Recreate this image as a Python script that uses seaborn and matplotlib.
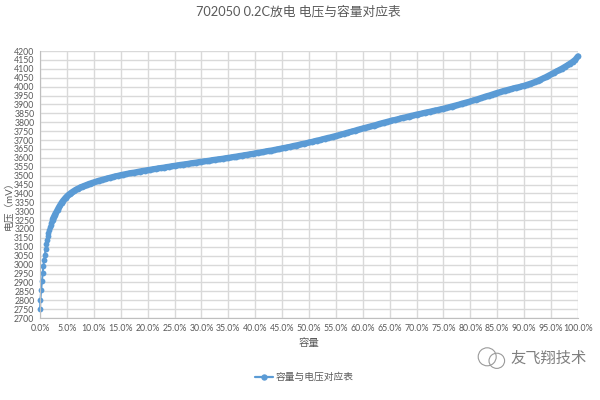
import matplotlib
matplotlib.use('Agg')
import matplotlib.pyplot as plt
import seaborn as sns
import pandas as pd
from matplotlib.ticker import MultipleLocator, PercentFormatter
from matplotlib.patches import Ellipse

# capacity (%) and voltage (mV)
cap_start = [0.0, 0.06, 0.24, 0.37, 0.5, 0.61, 0.74, 0.87, 1.06, 1.17,
             1.3, 1.43, 1.56, 1.69, 1.82, 1.95, 2.08, 2.21, 2.34, 2.47,
             2.6, 2.73, 2.86, 3.0]
volt_start = [2750, 2800, 2860, 2910, 2955, 2990, 3025, 3055, 3085, 3113,
              3137, 3158, 3177, 3194, 3209, 3222, 3234, 3244, 3253, 3262,
              3270, 3278, 3286, 3293]

cap_knee = [3.25, 3.5, 3.75, 4.0, 4.25, 4.5, 4.75, 5.0, 5.25, 5.5,
            5.75, 6.0, 6.25, 6.5, 6.75, 7.0, 7.25, 7.5, 7.75, 8.0,
            8.25, 8.5, 8.75, 9.0, 9.25, 9.5, 9.75, 10.0]
volt_knee = [3308, 3322, 3335, 3347, 3358, 3367, 3376, 3384, 3391, 3397,
             3403, 3408, 3413, 3418, 3422, 3426, 3430, 3434, 3437, 3440,
             3443, 3446, 3449, 3452, 3455, 3457, 3460, 3462]

cap_main = [10.5, 11, 11.5, 12, 12.5, 13, 13.5, 14, 14.5, 15,
            15.5, 16, 16.5, 17, 17.5, 18, 18.5, 19, 19.5, 20,
            20.5, 21, 21.5, 22, 22.5, 23, 23.5, 24, 24.5, 25,
            25.5, 26, 26.5, 27, 27.5, 28, 28.5, 29, 29.5, 30,
            30.5, 31, 31.5, 32, 32.5, 33, 33.5, 34, 34.5, 35,
            35.5, 36, 36.5, 37, 37.5, 38, 38.5, 39, 39.5, 40,
            40.5, 41, 41.5, 42, 42.5, 43, 43.5, 44, 44.5, 45,
            45.5, 46, 46.5, 47, 47.5, 48, 48.5, 49, 49.5, 50,
            50.5, 51, 51.5, 52, 52.5, 53, 53.5, 54, 54.5, 55,
            55.5, 56, 56.5, 57, 57.5, 58, 58.5, 59, 59.5, 60,
            60.5, 61, 61.5, 62, 62.5, 63, 63.5, 64, 64.5, 65,
            65.5, 66, 66.5, 67, 67.5, 68, 68.5, 69, 69.5, 70,
            70.5, 71, 71.5, 72, 72.5, 73, 73.5, 74, 74.5, 75,
            75.5, 76, 76.5, 77, 77.5, 78, 78.5, 79, 79.5, 80,
            80.5, 81, 81.5, 82, 82.5, 83, 83.5, 84, 84.5, 85,
            85.5, 86, 86.5, 87, 87.5, 88, 88.5, 89, 89.5, 90,
            90.5, 91, 91.5, 92, 92.5, 93, 93.5, 94, 94.5, 95,
            95.5, 96, 96.5, 97, 97.5, 98, 98.5, 99, 99.5, 100]
volt_main = [3467, 3472, 3476, 3480, 3484, 3488, 3492, 3496, 3499, 3503,
             3506, 3509, 3512, 3515, 3517, 3520, 3523, 3526, 3528, 3531,
             3533, 3536, 3538, 3541, 3543, 3545, 3548, 3550, 3553, 3555,
             3557, 3560, 3562, 3564, 3566, 3569, 3571, 3573, 3576, 3578,
             3580, 3582, 3584, 3587, 3589, 3591, 3593, 3595, 3598, 3600,
             3602, 3605, 3607, 3610, 3612, 3615, 3617, 3620, 3622, 3625,
             3628, 3630, 3633, 3636, 3639, 3641, 3644, 3647, 3650, 3653,
             3656, 3659, 3662, 3666, 3669, 3672, 3676, 3679, 3682, 3686,
             3689, 3693, 3697, 3700, 3704, 3708, 3712, 3715, 3719, 3723,
             3727, 3731, 3735, 3740, 3744, 3748, 3752, 3757, 3761, 3765,
             3769, 3773, 3777, 3781, 3785, 3790, 3794, 3798, 3802, 3806,
             3810, 3813, 3817, 3821, 3825, 3828, 3832, 3836, 3839, 3843,
             3846, 3849, 3853, 3856, 3859, 3863, 3866, 3869, 3873, 3876,
             3880, 3884, 3888, 3892, 3896, 3900, 3905, 3909, 3913, 3917,
             3922, 3926, 3931, 3936, 3941, 3946, 3950, 3955, 3960, 3965,
             3969, 3974, 3978, 3982, 3986, 3990, 3994, 3997, 4001, 4005,
             4010, 4015, 4020, 4026, 4032, 4039, 4046, 4053, 4061, 4069,
             4077, 4085, 4093, 4101, 4110, 4119, 4129, 4139, 4151, 4170]

TITLE = '702050 0.2C放电 电压与容量对应表'
SERIES = '容量与电压对应表'
BLUE = '#5B9BD5'
GRAY = '#595959'
GRID = '#D9D9D9'

sns.set_style('whitegrid')
plt.rcParams['font.family'] = ['Lato', 'Noto Sans CJK SC', 'DejaVu Sans']

df = pd.DataFrame({
    'cap': cap_start + cap_knee + cap_main,
    'volt': volt_start + volt_knee + volt_main,
    'series': SERIES,
})

fig = plt.figure(figsize=(6, 4), dpi=100)
ax = fig.add_axes([0.0667, 0.205, 0.8966, 0.6675])

# markers + thin connector for every point
sns.lineplot(data=df, x='cap', y='volt', hue='series', palette=[BLUE],
             sort=False, marker='o', markersize=4.2, markeredgewidth=0,
             linewidth=1.4, ax=ax, legend=False, clip_on=False)
# where the Excel markers merge into a solid band
dense = df[df['cap'] >= 2.3]
sns.lineplot(data=dense, x='cap', y='volt', hue='series', palette=[BLUE],
             sort=False, linewidth=4.4, ax=ax, legend=False, clip_on=False,
             solid_capstyle='round')

ax.set_xlim(0, 100)
ax.set_ylim(2700, 4200)
ax.xaxis.set_major_locator(MultipleLocator(5))
ax.xaxis.set_major_formatter(PercentFormatter(xmax=100, decimals=1))
ax.yaxis.set_major_locator(MultipleLocator(50))
ax.grid(True, color=GRID, linewidth=1.0)
ax.set_axisbelow(True)
ax.tick_params(length=0, labelsize=6.3, labelcolor=GRAY, pad=4)
for side in ['top', 'right']:
    ax.spines[side].set_visible(False)
ax.spines['left'].set_color('#BFBFBF')
ax.spines['bottom'].set_color('#BFBFBF')
ax.set_xlabel('')
ax.set_ylabel('')

fig.text(0.4975, 0.972, TITLE, ha='center', va='center', fontsize=9.2,
         color=GRAY)
fig.text(0.014, 0.493, '电压（mV）', rotation=90, ha='center', va='center',
         fontsize=7.0, color=GRAY)
fig.text(0.515, 0.143, '容量', ha='center', va='center', fontsize=7.5,
         color=GRAY)

# legend below the plot
fig.lines.append(plt.Line2D([0.425, 0.455], [0.057, 0.057], color=BLUE,
                            linewidth=1.6, transform=fig.transFigure))
fig.lines.append(plt.Line2D([0.44], [0.057], color=BLUE, marker='o',
                            markersize=4.6, markeredgewidth=0,
                            transform=fig.transFigure))
fig.text(0.46, 0.057, SERIES, ha='left', va='center', fontsize=7.0,
         color=GRAY)

# watermark
for cx, cy, w, h in [(0.812, 0.108, 0.03, 0.045), (0.828, 0.098, 0.026, 0.038)]:
    fig.patches.append(Ellipse((cx, cy), w, h, fill=False, edgecolor='#9A9A9A',
                               linewidth=0.8, transform=fig.transFigure))
fig.text(0.85, 0.104, '友飞翔技术', ha='left', va='center', fontsize=11,
         color='#7F7F7F')

fig.savefig('out.png', dpi=100)
